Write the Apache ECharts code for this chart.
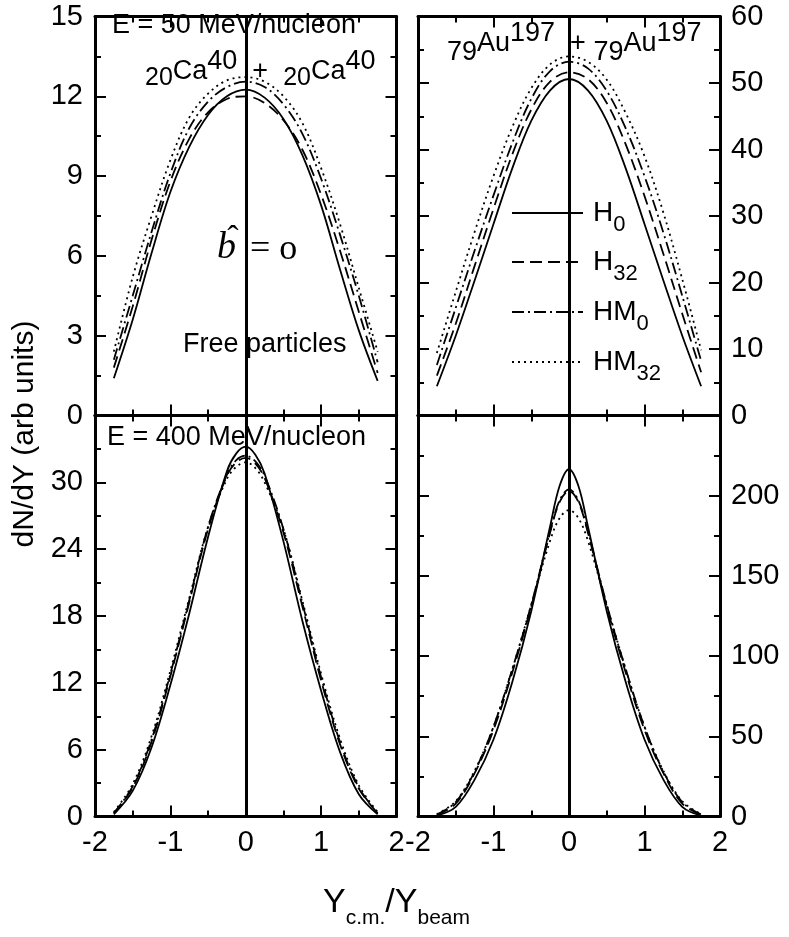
<!DOCTYPE html>
<html>
<head>
<meta charset="utf-8">
<script src="https://cdn.jsdelivr.net/npm/echarts@6/dist/echarts.min.js"></script>
<style>
html, body { margin: 0; padding: 0; background: #fff; }
#chart { width: 789px; height: 937px; }
</style>
</head>
<body>
<div id="chart"></div>
<script>
// rapidity points (Y_cm / Y_beam)
var xs = [-1.75, -1.5, -1.25, -1, -0.75, -0.5, -0.25, 0, 0.25, 0.5, 0.75, 1, 1.25, 1.5, 1.75]
// finer sampling near the peak for the 400 MeV/nucleon curves
var xsFine = [-1.75, -1.5, -1.25, -1, -0.75, -0.5, -0.25, -0.125, 0, 0.125, 0.25, 0.5, 0.75, 1, 1.25, 1.5, 1.75]

// Ca40 + Ca40, E = 50 MeV/nucleon
var ca50H0 = [1.4, 3.6, 6.1, 8.4, 10.1, 11.3, 12.0, 12.25, 11.95, 11.15, 9.8, 7.9, 5.5, 3.2, 1.3]
var ca50H32 = [1.8, 4.1, 6.6, 8.8, 10.4, 11.4, 11.9, 12.0, 11.75, 11.1, 10.0, 8.3, 6.2, 3.9, 1.6]
var ca50HM0 = [2.1, 4.5, 6.9, 9.1, 10.8, 11.8, 12.35, 12.55, 12.35, 11.7, 10.6, 8.9, 6.8, 4.5, 2.0]
var ca50HM32 = [2.4, 5.2, 7.5, 9.6, 11.2, 12.1, 12.6, 12.72, 12.55, 12.0, 11.0, 9.3, 7.2, 4.8, 2.4]

// Au197 + Au197, E = 50 MeV/nucleon
var au50H0 = [4.4, 12.0, 20.3, 28.8, 37.2, 44.3, 48.9, 50.6, 48.9, 44.3, 37.2, 28.8, 20.3, 12.0, 4.4]
var au50H32 = [6.0, 13.8, 22.5, 31.1, 39.3, 46.0, 50.2, 51.6, 50.6, 47.0, 40.8, 33.0, 24.3, 15.3, 6.5]
var au50HM0 = [7.6, 16.2, 24.8, 33.1, 41.0, 47.6, 51.8, 53.2, 52.2, 48.8, 43.2, 36.0, 27.5, 18.0, 8.2]
var au50HM32 = [9.4, 18.6, 27.6, 36.0, 43.4, 49.2, 52.8, 54.0, 53.2, 50.5, 45.5, 39.0, 30.5, 20.5, 9.8]

// Ca40 + Ca40, E = 400 MeV/nucleon
var ca400H0 = [0.2, 2.3, 6.2, 11.8, 18.2, 25.1, 31.0, 32.6, 33.2, 32.5, 30.8, 24.7, 17.6, 11.3, 5.8, 2.0, 0.2]
var ca400H32 = [0.3, 2.6, 6.7, 12.6, 19.2, 25.8, 30.6, 31.8, 32.2, 31.7, 30.4, 25.5, 18.9, 12.2, 6.5, 2.5, 0.3]
var ca400HM0 = [0.3, 2.7, 6.9, 12.8, 19.4, 26.0, 30.7, 32.0, 32.4, 31.9, 30.6, 25.8, 19.2, 12.5, 6.7, 2.6, 0.3]
var ca400HM32 = [0.4, 2.9, 7.2, 13.1, 19.6, 26.0, 30.3, 31.4, 31.8, 31.3, 30.0, 25.8, 19.4, 12.8, 7.0, 2.8, 0.4]

// Au197 + Au197, E = 400 MeV/nucleon
var au400H0 = [0.5, 6, 23, 48, 84, 128, 181, 206, 216.5, 206, 181, 128, 84, 48, 23, 6, 0.5]
var au400H32 = [1.0, 8, 27, 54, 90, 131, 177, 196, 203, 196, 177, 131, 90, 54, 27, 8, 1.0]
var au400HM0 = [1.2, 9, 28, 56, 92, 132, 178, 197, 204, 197, 178, 132, 92, 56, 28, 9, 1.2]
var au400HM32 = [1.5, 9.5, 28.5, 56, 92, 132, 172, 186, 191, 186, 172, 132, 92, 56, 28.5, 9.5, 1.5]

var legendNames = ['H0', 'H32', 'HM0', 'HM32']

var FONT = '"Liberation Sans", Arial, sans-serif'
var SERIF = '"Liberation Serif", "Times New Roman", serif'

// line dash of each model
var dashes = ['solid', [12, 6], [12, 4, 2, 4], [2, 4]]

var panels = [
  { grid: { left: 95, top: 16.5, width: 301.5, height: 399 }, x: xs, yMax: 15, yStep: 3, side: 'left', xLabels: false, hideMax: false, data: [ca50H0, ca50H32, ca50HM0, ca50HM32] },
  { grid: { left: 418, top: 16.5, width: 302, height: 399 }, x: xs, yMax: 60, yStep: 10, side: 'right', xLabels: false, hideMax: false, data: [au50H0, au50H32, au50HM0, au50HM32] },
  { grid: { left: 95, top: 415.5, width: 301.5, height: 401 }, x: xsFine, yMax: 36, yStep: 6, side: 'left', xLabels: true, hideMax: true, data: [ca400H0, ca400H32, ca400HM0, ca400HM32] },
  { grid: { left: 418, top: 415.5, width: 302, height: 401 }, x: xsFine, yMax: 250, yStep: 50, side: 'right', xLabels: true, hideMax: true, data: [au400H0, au400H32, au400HM0, au400HM32] }
]

var blk = '#000'

var grids = []
var xAxes = []
var yAxes = []
var series = []

panels.forEach(function (p, gi) {
  grids.push(p.grid)
  ;['bottom', 'top'].forEach(function (pos) {
    xAxes.push({
      type: 'value',
      gridIndex: gi,
      position: pos,
      min: -2,
      max: 2,
      interval: 1,
      axisLine: { show: true, onZero: false, lineStyle: { color: blk, width: 3 } },
      axisTick: { show: true, inside: true, length: 11, lineStyle: { color: blk, width: 2 } },
      minorTick: { show: true, splitNumber: 2, length: 6, lineStyle: { color: blk, width: 2 } },
      splitLine: { show: false },
      axisLabel: {
        show: pos === 'bottom' && p.xLabels,
        color: blk,
        fontSize: 29,
        fontFamily: FONT,
        margin: 12
      }
    })
  })
  var other = p.side === 'left' ? 'right' : 'left'
  ;[p.side, other].forEach(function (pos) {
    yAxes.push({
      type: 'value',
      gridIndex: gi,
      position: pos,
      min: 0,
      max: p.yMax,
      interval: p.yStep,
      axisLine: { show: true, onZero: false, lineStyle: { color: blk, width: 3 } },
      axisTick: { show: true, inside: true, length: 11, lineStyle: { color: blk, width: 2 } },
      minorTick: { show: true, splitNumber: 2, length: 6, lineStyle: { color: blk, width: 2 } },
      splitLine: { show: false },
      axisLabel: {
        show: pos === p.side,
        showMaxLabel: !p.hideMax,
        color: blk,
        fontSize: 29,
        fontFamily: FONT,
        margin: p.side === 'left' ? 12 : 11
      }
    })
  })
  p.data.forEach(function (vals, si) {
    var s = {
      name: legendNames[si],
      type: 'line',
      xAxisIndex: gi * 2,
      yAxisIndex: gi * 2,
      data: p.x.map(function (x, i) { return [x, vals[i]] }),
      smooth: 0.35,
      showSymbol: false,
      symbol: 'none',
      lineStyle: { color: blk, width: 1.8, type: dashes[si] }
    }
    if (si === 0) {
      s.markLine = {
        silent: true,
        symbol: ['none', 'none'],
        label: { show: false },
        lineStyle: { color: blk, width: 3, type: 'solid' },
        data: [{ xAxis: 0 }]
      }
    }
    series.push(s)
  })
})

function txt (x, y, text, size, extra) {
  var st = {
    text: text,
    fill: blk,
    fontSize: size,
    fontFamily: FONT,
    align: 'left',
    textAlign: 'left',
    verticalAlign: 'middle',
    textVerticalAlign: 'middle'
  }
  for (var k in extra) st[k] = extra[k]
  return { type: 'text', x: x, y: y, z: 100, style: st }
}

function tok (size, pad, fam) {
  return { fontSize: size, fontFamily: fam || FONT, fill: blk, color: blk, verticalAlign: 'middle', padding: pad || [0, 0, 0, 0] }
}

var graphics = [
  txt(112, 25.5, 'E = 50 MeV/nucleon', 27),
  txt(145, 71.5, '{b|20}{m|Ca}{p|40}{m|  +  }{b|20}{m|Ca}{p|40}', 27, {
    rich: { m: tok(27), b: tok(25, [14, 0, 0, 0]), p: tok(27, [0, 0, 20, 0]) }
  }),
  txt(217, 248, 'b', 38, { fontFamily: SERIF, fontStyle: 'italic' }),
  txt(233, 240, 'ˆ', 34, { fontFamily: SERIF, align: 'center', textAlign: 'center' }),
  txt(250, 249.4, '= o', 36, { fontFamily: SERIF }),
  txt(183, 344.5, 'Free particles', 27),
  txt(447, 43.5, '{b|79}{m|Au}{p|197}{m|  + }{b|79}{m|Au}{p|197}', 27, {
    rich: { m: tok(27), b: tok(27, [18, 0, 0, 0]), p: tok(27, [0, 0, 20, 0]) }
  }),
  txt(107, 437.5, 'E = 400 MeV/nucleon', 27),
  {
    type: 'text',
    x: 25,
    y: 434,
    rotation: Math.PI / 2,
    z: 100,
    style: { text: 'dN/dY (arb units)', fill: blk, fontSize: 30, fontFamily: FONT, align: 'center', textAlign: 'center', verticalAlign: 'middle', textVerticalAlign: 'middle' }
  },
  txt(396.5, 903, '{m|Y}{s|c.m.}{m|/Y}{s|beam}', 34, {
    align: 'center',
    textAlign: 'center',
    rich: { m: tok(34), s: tok(21, [30, 0, 0, 0]) }
  })
]

// legend inside the upper right panel
var legendRows = [213, 262, 312, 362]
var legendLabels = ['{m|H}{s|0}', '{m|H}{s|32}', '{m|HM}{s|0}', '{m|HM}{s|32}']
legendRows.forEach(function (y, i) {
  graphics.push({
    type: 'line',
    z: 100,
    shape: { x1: 512, y1: y, x2: 583, y2: y },
    style: { stroke: blk, lineWidth: 1.8, lineDash: dashes[i] === 'solid' ? null : dashes[i] }
  })
  graphics.push(txt(593, y, legendLabels[i], 28, {
    rich: { m: tok(28), s: tok(22, [24, 0, 0, 0]) }
  }))
})

var chart = echarts.init(document.getElementById('chart'), null, { renderer: 'canvas' })
chart.setOption({
  animation: false,
  backgroundColor: '#fff',
  grid: grids,
  xAxis: xAxes,
  yAxis: yAxes,
  series: series,
  graphic: graphics
})
</script>
</body>
</html>
